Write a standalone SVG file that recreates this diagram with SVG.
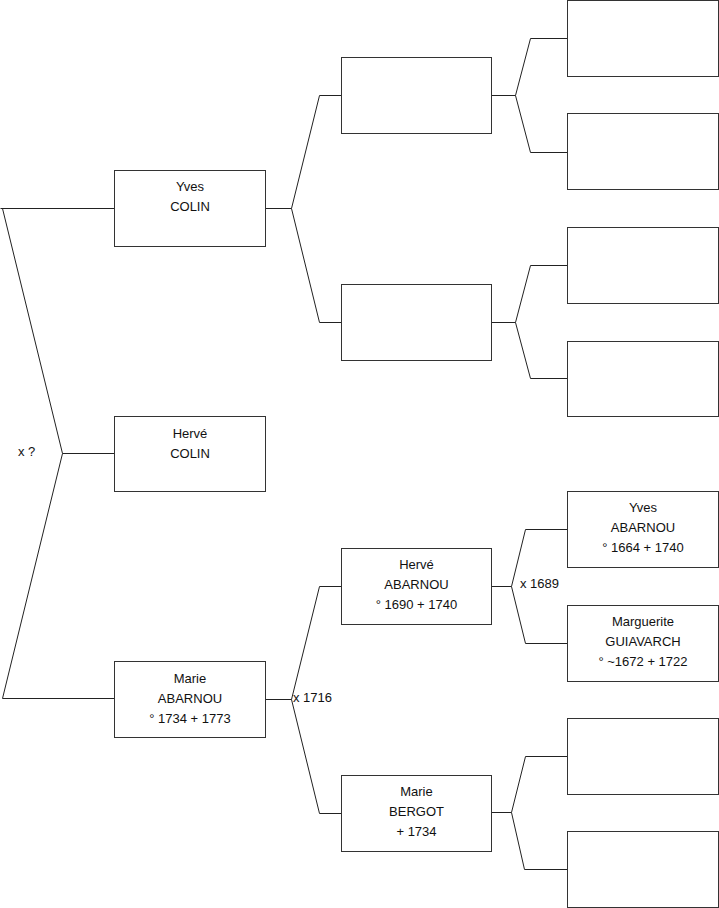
<svg xmlns="http://www.w3.org/2000/svg" width="719" height="908" viewBox="0 0 719 908">
<style>
.box{fill:#fff;stroke:#333;stroke-width:1}
.ln{fill:none;stroke:#222;stroke-width:1}
text{font-family:"Liberation Sans",Arial,sans-serif;font-size:13px;fill:#111}
.c{text-anchor:middle}
</style>
<rect width="719" height="908" fill="#fff"/>
<g id="connectors">
<path class="ln" d="M0.5,208.5 H114.5 M2.5,208.5 L62.5,453.5 L2.5,698.5 H114.5 M62.5,453.5 H114.5"/>
<path class="ln" d="M265.5,208.5 H291.5 M341.5,95.5 H319.5 L291.5,208.5 L319.5,322.5 H341.5"/>
<path class="ln" d="M265.5,699.5 H291.5 M341.5,586.5 H319.5 L291.5,699.5 L319.5,813.5 H341.5"/>
<path class="ln" d="M491.5,95.5 H515.5 M567.5,38.5 H530.5 L515.5,95.5 L530.5,152.5 H567.5"/>
<path class="ln" d="M491.5,322.5 H515.5 M567.5,265.5 H530.5 L515.5,322.5 L530.5,378.5 H567.5"/>
<path class="ln" d="M491.5,586.5 H511.5 M567.5,529.5 H525.5 L511.5,586.5 L525.5,643.5 H567.5"/>
<path class="ln" d="M491.5,812.5 H511.5 M567.5,756.5 H525.5 L511.5,812.5 L524.5,869.5 H567.5"/>
<text x="18" y="456">x ?</text>
<text x="293" y="702">x 1716</text>
<text x="520" y="588">x 1689</text>
</g>
<g id="yves-colin">
<rect class="box" x="114.5" y="170.5" width="151" height="76"/>
<text class="c" x="190" y="191">Yves</text>
<text class="c" x="190" y="211">COLIN</text>
</g>
<g id="herve-colin">
<rect class="box" x="114.5" y="416.5" width="151" height="75"/>
<text class="c" x="190" y="437.5">Hervé</text>
<text class="c" x="190" y="457.5">COLIN</text>
</g>
<g id="marie-abarnou">
<rect class="box" x="114.5" y="661.5" width="151" height="76"/>
<text class="c" x="190" y="682.5">Marie</text>
<text class="c" x="190" y="702.5">ABARNOU</text>
<text class="c" x="190" y="722.5">° 1734 + 1773</text>
</g>
<g id="g2-1"><rect class="box" x="341.5" y="57.5" width="150" height="76"/></g>
<g id="g2-2"><rect class="box" x="341.5" y="284.5" width="150" height="76"/></g>
<g id="herve-abarnou">
<rect class="box" x="341.5" y="548.5" width="150" height="76"/>
<text class="c" x="416.5" y="569">Hervé</text>
<text class="c" x="416.5" y="589">ABARNOU</text>
<text class="c" x="416.5" y="609">° 1690 + 1740</text>
</g>
<g id="marie-bergot">
<rect class="box" x="341.5" y="775.5" width="150" height="76"/>
<text class="c" x="416.5" y="796">Marie</text>
<text class="c" x="416.5" y="816">BERGOT</text>
<text class="c" x="416.5" y="836">+ 1734</text>
</g>
<g id="g3-1"><rect class="box" x="567.5" y="0.5" width="151" height="76"/></g>
<g id="g3-2"><rect class="box" x="567.5" y="113.5" width="151" height="76"/></g>
<g id="g3-3"><rect class="box" x="567.5" y="227.5" width="151" height="76"/></g>
<g id="g3-4"><rect class="box" x="567.5" y="341.5" width="151" height="75"/></g>
<g id="yves-abarnou">
<rect class="box" x="567.5" y="491.5" width="151" height="76"/>
<text class="c" x="643" y="512">Yves</text>
<text class="c" x="643" y="532">ABARNOU</text>
<text class="c" x="643" y="552">° 1664 + 1740</text>
</g>
<g id="marguerite-guiavarch">
<rect class="box" x="567.5" y="605.5" width="151" height="76"/>
<text class="c" x="643" y="626">Marguerite</text>
<text class="c" x="643" y="646">GUIAVARCH</text>
<text class="c" x="643" y="666">° ~1672 + 1722</text>
</g>
<g id="g3-7"><rect class="box" x="567.5" y="718.5" width="151" height="76"/></g>
<g id="g3-8"><rect class="box" x="567.5" y="831.5" width="151" height="76"/></g>
</svg>
